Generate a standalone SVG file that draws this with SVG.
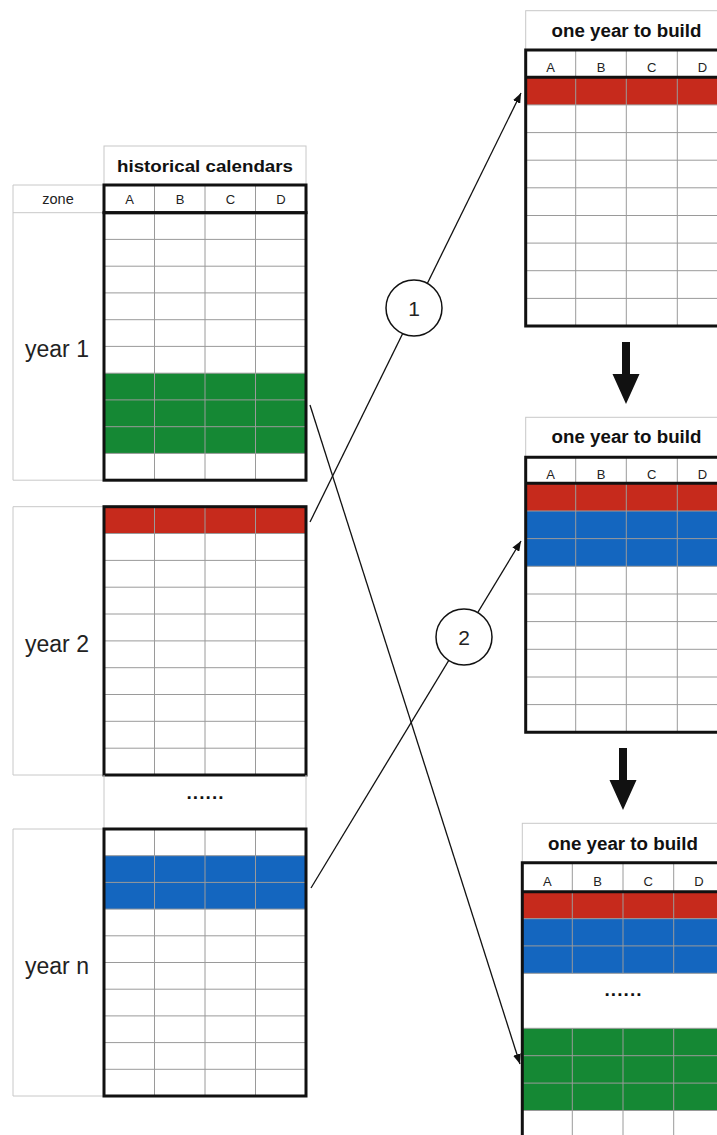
<svg xmlns="http://www.w3.org/2000/svg" width="717" height="1135" viewBox="0 0 717 1135">
<style>
text{font-family:"Liberation Sans",Arial,sans-serif;fill:#111}
.lbl{fill:none;stroke:#c8c8c8;stroke-width:1}
.grid{fill:none;stroke:#9a9a9a;stroke-width:1}
.thick{fill:none;stroke:#111;stroke-width:3}
.hd{font-size:17px;font-weight:bold;text-anchor:middle}
.hd2{font-size:18px;font-weight:bold;text-anchor:middle}
.col{font-size:13px;text-anchor:middle;fill:#222}
.zone{font-size:14.5px;text-anchor:middle;fill:#222}
.yr{font-size:23px;text-anchor:middle;fill:#222}
.dots{font-size:19px;font-weight:bold;text-anchor:middle}
.red{fill:#c62a1c}.blue{fill:#1466bf}.green{fill:#158834}
.conn{fill:none;stroke:#111;stroke-width:1.3}
.circ{fill:#fff;stroke:#111;stroke-width:1.5}
.num{font-size:21px;text-anchor:middle;fill:#222}
</style>
<defs>
<marker id="ah" viewBox="0 0 10 8" refX="10" refY="4" markerWidth="10" markerHeight="8" markerUnits="userSpaceOnUse" orient="auto">
<path d="M0 0L10 4L0 8Z" fill="#111"/>
</marker>
</defs>
<rect width="717" height="1135" fill="#fff"/>

<g id="historical-header">
<rect class="lbl" x="104" y="146" width="202" height="39"/>
<text class="hd" x="205" y="172" textLength="176" lengthAdjust="spacingAndGlyphs">historical calendars</text>
<path class="lbl" d="M13 185H104M13 212.7H104M13 185V480.2H104"/>
<text class="zone" x="58" y="204">zone</text>
<path class="grid" d="M154.5 185V212.7M205 185V212.7M255.5 185V212.7"/>
<text class="col" x="129.5" y="204">A</text>
<text class="col" x="180" y="204">B</text>
<text class="col" x="230.5" y="204">C</text>
<text class="col" x="281" y="204">D</text>
<rect class="thick" x="104" y="185" width="202" height="27.7"/>
</g>

<g id="year1">
<text class="yr" x="57" y="357">year 1</text>
<rect class="green" x="104" y="373.2" width="202" height="80.2"/>
<path class="grid" d="M104 239.4H306M104 266.2H306M104 292.9H306M104 319.7H306M104 346.4H306M104 373.2H306M104 399.9H306M104 426.7H306M104 453.4H306M154.5 212.7V480.2M205 212.7V480.2M255.5 212.7V480.2"/>
<rect class="thick" x="104" y="212.7" width="202" height="267.5"/>
</g>

<g id="year2">
<path class="lbl" d="M104 506.7H13V775H104"/>
<text class="yr" x="57" y="652">year 2</text>
<rect class="red" x="104" y="506.7" width="202" height="26.8"/>
<path class="grid" d="M104 533.5H306M104 560.4H306M104 587.2H306M104 614H306M104 640.9H306M104 667.7H306M104 694.5H306M104 721.3H306M104 748.2H306M154.5 506.7V775M205 506.7V775M255.5 506.7V775"/>
<rect class="thick" x="104" y="506.7" width="202" height="268.3"/>
</g>

<g id="left-ellipsis">
<path class="lbl" d="M104 775V829M306 775V829"/>
<text class="dots" x="205" y="799" textLength="37" lengthAdjust="spacing">......</text>
</g>

<g id="yearn">
<path class="lbl" d="M104 829H13V1096H104"/>
<text class="yr" x="57" y="974">year n</text>
<rect class="blue" x="104" y="855.7" width="202" height="53.4"/>
<path class="grid" d="M104 855.7H306M104 882.4H306M104 909.1H306M104 935.8H306M104 962.5H306M104 989.2H306M104 1015.9H306M104 1042.6H306M104 1069.3H306M154.5 829V1096M205 829V1096M255.5 829V1096"/>
<rect class="thick" x="104" y="829" width="202" height="267"/>
</g>

<g id="build1">
<rect class="lbl" x="525.7" y="10.7" width="210" height="39.3"/>
<text class="hd2" x="626.5" y="37" textLength="150" lengthAdjust="spacingAndGlyphs">one year to build</text>
<rect class="red" x="525.7" y="77.3" width="210" height="27.6"/>
<path class="grid" d="M525.7 104.9H728M525.7 132.6H728M525.7 160.2H728M525.7 187.8H728M525.7 215.5H728M525.7 243.1H728M525.7 270.7H728M525.7 298.4H728M575.7 50V326M626.3 50V326M677.3 50V326"/>
<text class="col" x="550.7" y="72">A</text>
<text class="col" x="601" y="72">B</text>
<text class="col" x="651.8" y="72">C</text>
<text class="col" x="702.5" y="72">D</text>
<path class="thick" d="M735 50H525.7V326H735M525.7 77.3H735"/>
</g>

<g id="build2">
<rect class="lbl" x="525.7" y="417.3" width="210" height="40"/>
<text class="hd2" x="626.5" y="443" textLength="150" lengthAdjust="spacingAndGlyphs">one year to build</text>
<rect class="red" x="525.7" y="483.3" width="210" height="27.7"/>
<rect class="blue" x="525.7" y="511" width="210" height="55.3"/>
<path class="grid" d="M525.7 511H728M525.7 538.6H728M525.7 566.3H728M525.7 594H728M525.7 621.6H728M525.7 649.3H728M525.7 677H728M525.7 704.6H728M575.7 457.3V732.3M626.3 457.3V732.3M677.3 457.3V732.3"/>
<text class="col" x="550.7" y="479">A</text>
<text class="col" x="601" y="479">B</text>
<text class="col" x="651.8" y="479">C</text>
<text class="col" x="702.5" y="479">D</text>
<path class="thick" d="M735 457.3H525.7V732.3H735M525.7 483.3H735"/>
</g>

<g id="build3">
<rect class="lbl" x="522.3" y="823.3" width="210" height="39.4"/>
<text class="hd2" x="623" y="850" textLength="150" lengthAdjust="spacingAndGlyphs">one year to build</text>
<rect class="red" x="522.3" y="891.7" width="210" height="27"/>
<rect class="blue" x="522.3" y="918.7" width="210" height="54.6"/>
<rect class="green" x="522.3" y="1028.3" width="210" height="82.2"/>
<path class="grid" d="M522.3 918.7H728M522.3 945.9H728M522.3 973.3H728M522.3 1028.3H728M522.3 1055.7H728M522.3 1083.1H728M522.3 1110.5H728M572.3 862.7V973.3M623 862.7V973.3M673.7 862.7V973.3M572.3 1028.3V1140M623 1028.3V1140M673.7 1028.3V1140"/>
<text class="col" x="547.3" y="886">A</text>
<text class="col" x="597.6" y="886">B</text>
<text class="col" x="648.3" y="886">C</text>
<text class="col" x="699" y="886">D</text>
<text class="dots" x="623" y="996" textLength="37" lengthAdjust="spacing">......</text>
<path class="thick" d="M735 862.7H522.3V1140M522.3 891.7H735"/>
</g>

<g id="step-arrows">
<path d="M622 342H630V374H639.5L626 404L612.5 374H622Z" fill="#111"/>
<path d="M619 748H627V780H636.5L623 810L609.5 780H619Z" fill="#111"/>
</g>

<g id="connectors">
<line class="conn" x1="310" y1="522" x2="521" y2="93" marker-end="url(#ah)"/>
<line class="conn" x1="310" y1="405" x2="520" y2="1064" marker-end="url(#ah)"/>
<line class="conn" x1="311" y1="888" x2="521" y2="541" marker-end="url(#ah)"/>
</g>

<g id="step1">
<circle class="circ" cx="414" cy="308" r="28"/>
<text class="num" x="414" y="316">1</text>
</g>
<g id="step2">
<circle class="circ" cx="464" cy="637" r="28"/>
<text class="num" x="464" y="645">2</text>
</g>
</svg>
